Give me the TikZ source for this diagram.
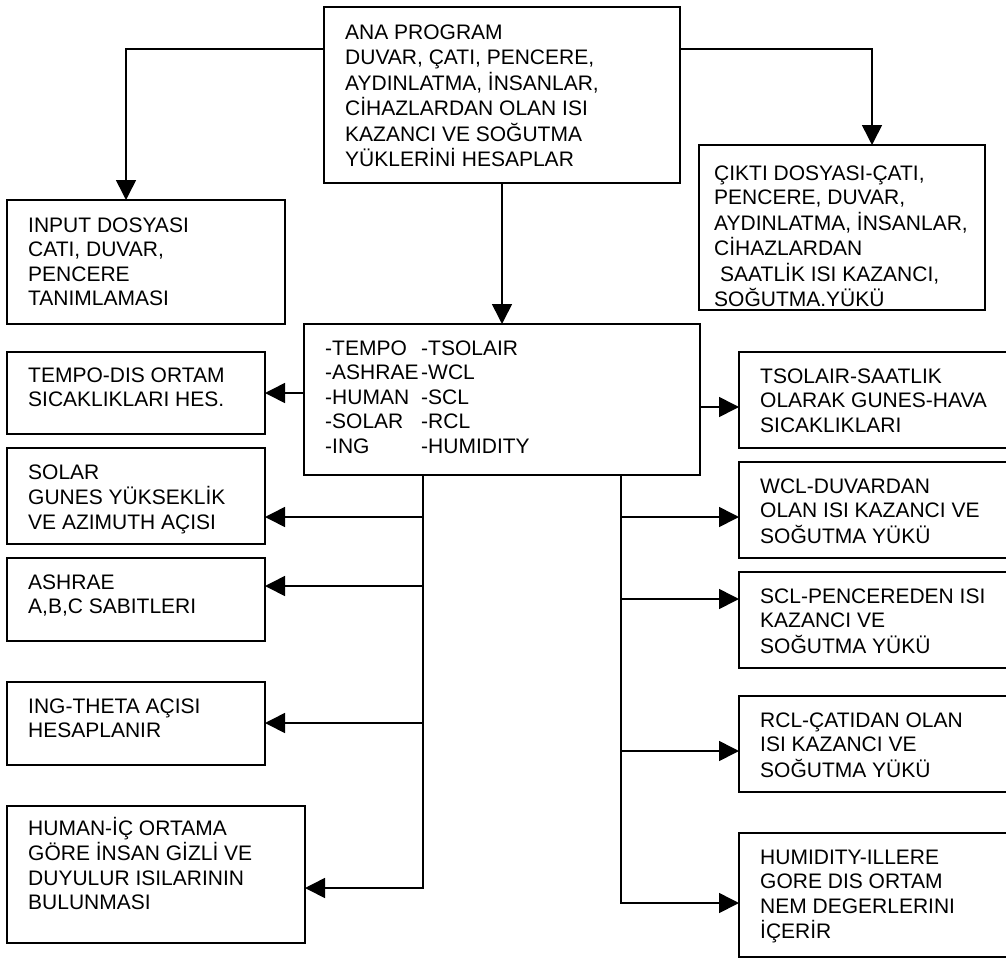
\documentclass[tikz,border=0pt]{standalone}
\usepackage{fontspec}
\setmainfont{Liberation Sans}
\usetikzlibrary{arrows.meta, calc}
\tikzset{
    x=1pt, y=-1pt,
    box/.style={draw, line width=1.8pt, anchor=north west, inner sep=0pt,
        outer sep=0pt},
    txt/.style={anchor=base west, inner sep=0pt,
        font=\fontsize{21}{24.5}\selectfont},
    arr/.style={line width=1.6pt, -{Triangle[length=20pt, width=20pt]}},
    bus/.style={line width=1.6pt, line cap=rect},
}
\newcommand{\boxlines}[1]{\begin{tabular}[t]{@{}l@{}}#1\end{tabular}}

\begin{document}
\begin{tikzpicture}
    \useasboundingbox (0,0) rectangle (1006,958);
    % main program and files
    \node[box, minimum width=356pt, minimum height=176pt] (top) at (324,7) {};
    \node[txt] (top-t) at ([shift={(21pt,-33pt)}]top.north west)
        {\boxlines{ANA PROGRAM\\DUVAR, ÇATI, PENCERE,\\AYDINLATMA, İNSANLAR,\\
        CİHAZLARDAN OLAN ISI\\KAZANCI VE SOĞUTMA\\YÜKLERİNİ HESAPLAR}};
    \node[box, minimum width=278pt, minimum height=124pt] (input) at (7,200) {};
    \node[txt] (input-t) at ([shift={(21pt,-32pt)}]input.north west)
        {\boxlines{INPUT DOSYASI\\CATI, DUVAR,\\PENCERE\\TANIMLAMASI}};
    \node[box, minimum width=286pt, minimum height=165pt] (out) at (699,145) {};
    \node[txt] (out-t) at ([shift={(15pt,-35pt)}]out.north west)
        {\boxlines{ÇIKTI DOSYASI-ÇATI,\\PENCERE, DUVAR,\\AYDINLATMA, İNSANLAR,\\
        CİHAZLARDAN\\\hspace{6pt}SAATLİK ISI KAZANCI,\\SOĞUTMA.YÜKÜ}};
    % subroutine list
    \node[box, minimum width=396pt, minimum height=151pt] (hub) at (304,324) {};
    \node[txt] (hub-t) at ([shift={(21pt,-31pt)}]hub.north west)
        {\begin{tabular}[t]{@{}p{96pt}@{}l@{}}
        -TEMPO&-TSOLAIR\\-ASHRAE&-WCL\\-HUMAN&-SCL\\-SOLAR&-RCL\\-ING&-HUMIDITY
        \end{tabular}};
    % left column
    \node[box, minimum width=258pt, minimum height=82pt] (tempo) at (7,352) {};
    \node[txt] (tempo-t) at ([shift={(21pt,-30pt)}]tempo.north west)
        {\boxlines{TEMPO-DIS ORTAM\\SICAKLIKLARI HES.}};
    \node[box, minimum width=258pt, minimum height=96pt] (solar) at (7,448) {};
    \node[txt] (solar-t) at ([shift={(21pt,-31pt)}]solar.north west)
        {\boxlines{SOLAR\\GUNES YÜKSEKLİK\\VE AZIMUTH AÇISI}};
    \node[box, minimum width=258pt, minimum height=83pt] (ashrae) at (7,558) {};
    \node[txt] (ashrae-t) at ([shift={(21pt,-31pt)}]ashrae.north west)
        {\boxlines{ASHRAE\\A,B,C SABITLERI}};
    \node[box, minimum width=258pt, minimum height=83pt] (ing) at (7,682) {};
    \node[txt] (ing-t) at ([shift={(21pt,-31pt)}]ing.north west)
        {\boxlines{ING-THETA AÇISI\\HESAPLANIR}};
    \node[box, minimum width=298pt, minimum height=137pt] (human) at (7,806) {};
    \node[txt] (human-t) at ([shift={(21pt,-29pt)}]human.north west)
        {\boxlines{HUMAN-İÇ ORTAMA\\GÖRE İNSAN GİZLİ VE\\DUYULUR ISILARININ\\
        BULUNMASI}};
    % right column
    \node[box, minimum width=280pt, minimum height=96pt] (tsolair) at (739,352) {};
    \node[txt] (tsolair-t) at ([shift={(21pt,-31pt)}]tsolair.north west)
        {\boxlines{TSOLAIR-SAATLIK\\OLARAK GUNES-HAVA\\SICAKLIKLARI}};
    \node[box, minimum width=280pt, minimum height=96pt] (wcl) at (739,462) {};
    \node[txt] (wcl-t) at ([shift={(21pt,-31pt)}]wcl.north west)
        {\boxlines{WCL-DUVARDAN\\OLAN ISI KAZANCI VE\\SOĞUTMA YÜKÜ}};
    \node[box, minimum width=280pt, minimum height=96pt] (scl) at (739,572) {};
    \node[txt] (scl-t) at ([shift={(21pt,-31pt)}]scl.north west)
        {\boxlines{SCL-PENCEREDEN ISI\\KAZANCI VE\\SOĞUTMA YÜKÜ}};
    \node[box, minimum width=280pt, minimum height=96pt] (rcl) at (739,696) {};
    \node[txt] (rcl-t) at ([shift={(21pt,-31pt)}]rcl.north west)
        {\boxlines{RCL-ÇATIDAN OLAN\\ISI KAZANCI VE\\SOĞUTMA YÜKÜ}};
    \node[box, minimum width=280pt, minimum height=124pt] (humid) at (739,833) {};
    \node[txt] (humid-t) at ([shift={(21pt,-31pt)}]humid.north west)
        {\boxlines{HUMIDITY-ILLERE\\GORE DIS ORTAM\\NEM DEGERLERINI\\İÇERİR}};
    % connectors
    \draw[arr] (top.west |- 0,49) -| ([xshift=119pt]input.north west);
    \draw[arr] (top.east |- 0,49) -| ([xshift=173pt]out.north west);
    \draw[arr] (top) -- (hub);
    \draw[arr] (hub.west |- tempo.east) -- (tempo.east);
    \draw[arr] (hub.east |- 0,407) -- (tsolair.west |- 0,407);
    \coordinate (lbus) at ([xshift=-79pt]hub.south);
    \coordinate (rbus) at ([xshift=119pt]hub.south);
    \draw[bus] (lbus) -- (lbus |- 0,888);
    \draw[bus] (rbus) -- (rbus |- 0,903);
    \foreach \n/\y in {solar/517, ashrae/586, ing/723, human/888}
        \draw[arr] (lbus |- 0,\y) -- (\n.east |- 0,\y);
    \foreach \n/\y in {wcl/517, scl/599, rcl/751, humid/903}
        \draw[arr] (rbus |- 0,\y) -- (\n.west |- 0,\y);
\end{tikzpicture}
\end{document}
